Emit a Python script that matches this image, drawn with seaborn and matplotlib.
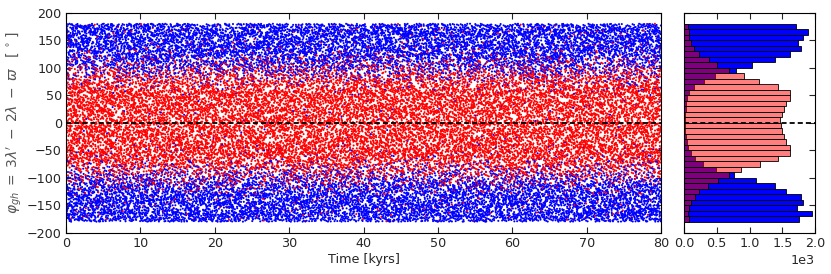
import numpy as np
import pandas as pd
import matplotlib
matplotlib.use("Agg")
import matplotlib.pyplot as plt
import seaborn as sns

# ---- data (histogram counts, in units of 1e3 per 10 deg bin) ----
bin_edges = list(range(-180, 181, 10))
blue_counts_k = [1.76, 1.95, 1.73, 1.81, 1.79, 1.55, 1.39, 1.10, 0.77,
                 0.49, 0.29, 0.17, 0.11, 0.066, 0.04, 0.025, 0.015, 0.01,
                 0.015, 0.02, 0.03, 0.03, 0.04, 0.08, 0.15, 0.31, 0.47,
                 0.79, 1.04, 1.39, 1.62, 1.79, 1.74, 1.82, 1.89, 1.71]
red_counts_k = [0.07, 0.06, 0.08, 0.11, 0.17, 0.23, 0.36, 0.52, 0.68,
                0.87, 1.16, 1.44, 1.62, 1.62, 1.55, 1.52, 1.49, 1.48,
                1.47, 1.49, 1.53, 1.56, 1.62, 1.62, 1.43, 1.14, 0.91,
                0.68, 0.51, 0.38, 0.23, 0.16, 0.11, 0.08, 0.08, 0.066]
t_max = 80.0
series_names = ["circulating", "librating"]
series_colors = {"circulating": "#0000ff", "librating": "#ff0000"}

edges = np.array(bin_edges, dtype=float)
centers = 0.5 * (edges[:-1] + edges[1:])
blue_counts = np.array(blue_counts_k) * 1000
red_counts = np.array(red_counts_k) * 1000

# ---- spread each bin's count over the time span (deterministic low-discrepancy fill) ----
g = 1.32471795724474602596
a1, a2 = 1.0 / g, 1.0 / g ** 2

def fill(counts, seed_shift):
    ts, angs = [], []
    for i, n in enumerate(counts):
        n = int(round(n))
        j = np.arange(n)
        s = (0.37 * i + seed_shift) % 1.0
        u = (s + j * a1) % 1.0
        v = (s * 0.7 + 0.5 + j * a2) % 1.0
        ts.append(u * t_max)
        angs.append(edges[i] + v * (edges[i + 1] - edges[i]))
    return np.concatenate(ts), np.concatenate(angs)

tb, ab = fill(blue_counts, 0.11)
tr, ar = fill(red_counts, 0.53)
df = pd.DataFrame({
    "t": np.concatenate([tb, tr]),
    "phi": np.concatenate([ab, ar]),
    "kind": [series_names[0]] * len(tb) + [series_names[1]] * len(tr),
})
df = df.sort_values("t", kind="mergesort").reset_index(drop=True)
df_shown = df.iloc[::2]  # every other sample is drawn in the time panel

hist_df = pd.DataFrame({"center": centers, "blue": blue_counts, "red": red_counts})

# ---- figure ----
sns.set_style("white")
plt.rcParams["font.family"] = ["DejaVu Sans"]
plt.rcParams["mathtext.fontset"] = "dejavusans"
FS = 9.2
plt.rcParams.update({
    "xtick.direction": "in", "ytick.direction": "in",
    "xtick.top": True, "ytick.right": True,
    "xtick.bottom": True, "ytick.left": True,
    "xtick.major.size": 4, "ytick.major.size": 4,
    "axes.edgecolor": "black", "axes.linewidth": 0.8,
    "font.size": FS,
})

W, H = 831, 274
fig = plt.figure(figsize=(W / 100, H / 100), dpi=100)
ax = fig.add_axes([66 / W, 1 - 232.7 / H, (661 - 66) / W, 220 / H])
axh = fig.add_axes([684 / W, 1 - 232.7 / H, (815 - 684) / W, 220 / H])

sns.scatterplot(data=df_shown, x="t", y="phi", hue="kind", palette=series_colors,
                s=2.2, linewidth=0, marker="o", legend=False, ax=ax,
                rasterized=True)
ax.axhline(0, color="black", ls=(0, (2.8, 1.7)), lw=1.3)
ax.set_xlim(0, 80)
ax.set_ylim(-200, 200)
ax.set_xticks(range(0, 81, 10))
ax.set_yticks(range(-200, 201, 50))
ax.set_xlabel("Time [kyrs]", fontsize=FS, labelpad=2)
ax.set_ylabel(r"$\varphi_{gh}\;=\;3\lambda^{\prime}\;-\;2\lambda\;-\;\varpi\;\;\;[\,^\circ\,]$",
              fontsize=10, color="#555555", labelpad=2)
ax.tick_params(labelsize=FS, pad=3)

for col, key, a in [("blue", "circulating", 1.0), ("red", "librating", 0.5)]:
    sns.histplot(data=hist_df, y="center", weights=col,
                 binwidth=10, binrange=(edges[0], edges[-1]),
                 color=series_colors[key], alpha=a,
                 edgecolor="black", linewidth=0.6, ax=axh)
axh.axhline(0, color="black", ls=(0, (2.8, 1.7)), lw=1.3)
axh.set_xlim(0, 2000)
axh.set_ylim(-200, 200)
axh.set_xticks([0, 500, 1000, 1500, 2000])
axh.set_yticks(range(-200, 201, 50))
axh.set_yticklabels([])
axh.set_xlabel("")
axh.set_ylabel("")
axh.ticklabel_format(axis="x", style="sci", scilimits=(0, 0))
axh.tick_params(labelsize=FS, pad=3)
axh.xaxis.get_offset_text().set_fontsize(FS)

fig.savefig("out.png", dpi=100)
